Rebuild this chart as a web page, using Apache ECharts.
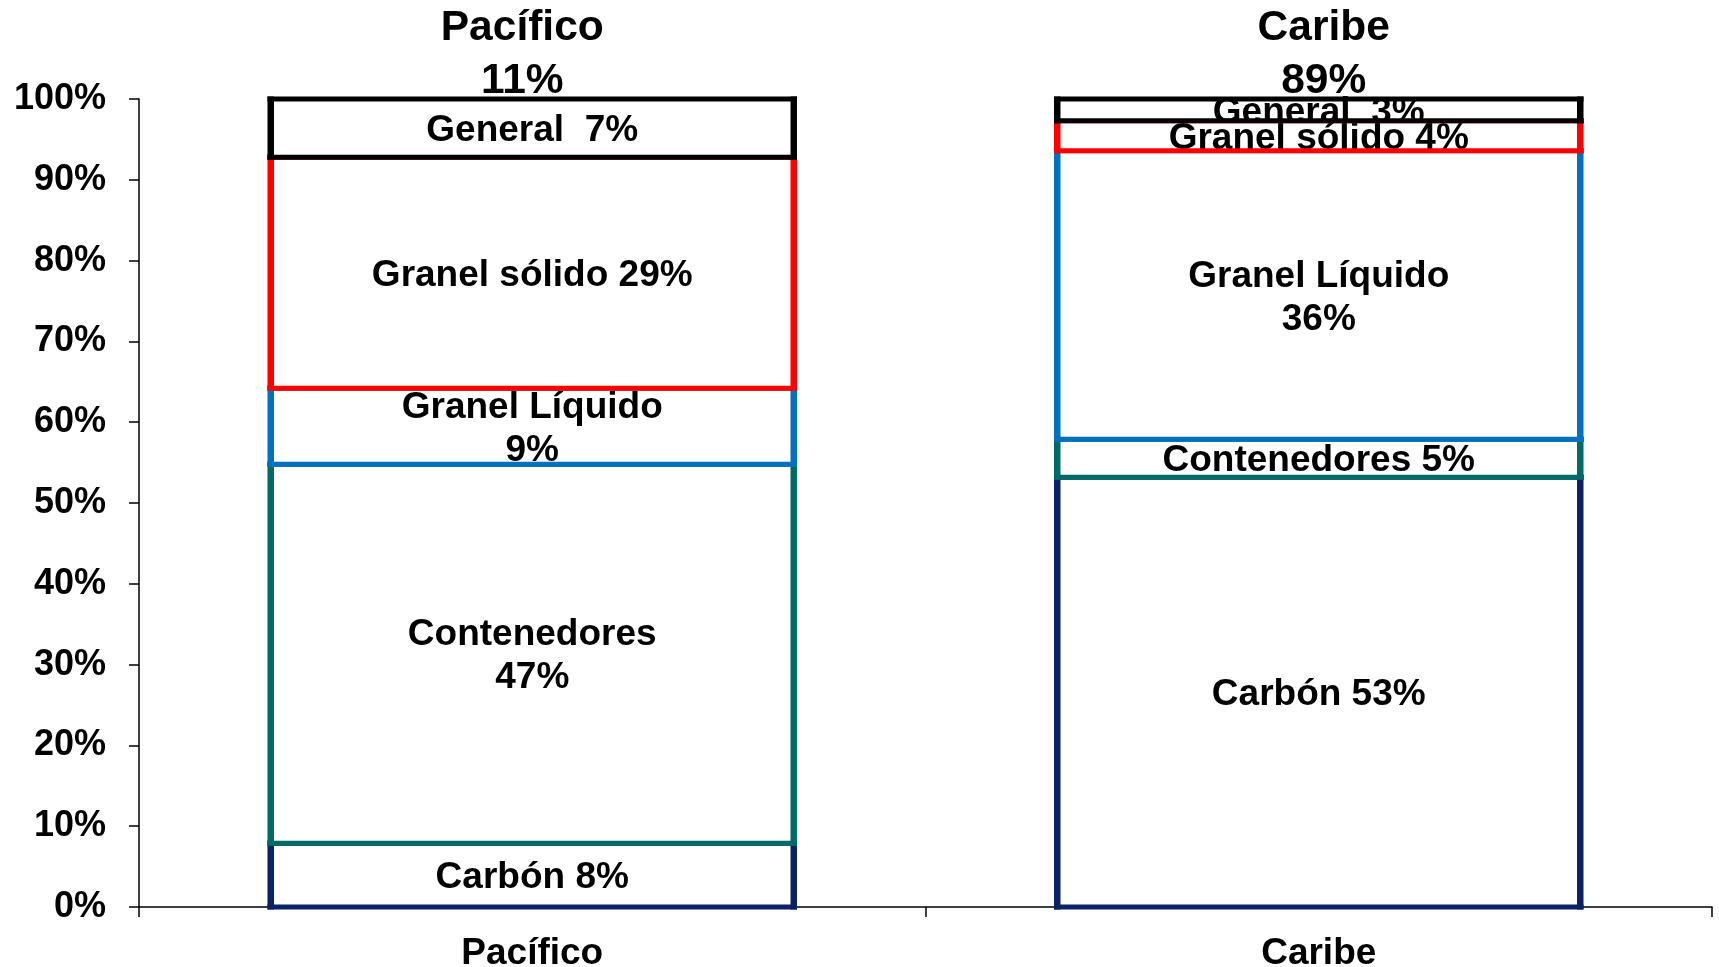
<!DOCTYPE html>
<html>
<head>
<meta charset="utf-8">
<script src="https://cdn.jsdelivr.net/npm/echarts@6/dist/echarts.min.js"></script>
<style>
html,body{margin:0;padding:0;background:#fff;}
#c{width:1719px;height:967px;}
</style>
</head>
<body>
<div id="c"></div>
<script>
const categories = ['Pacífico', 'Caribe'];
const regionShares = ['11%', '89%'];
const yTicks = [0, 10, 20, 30, 40, 50, 60, 70, 80, 90, 100];

const carbon = [7.9, 53.2];
const contenedores = [46.9, 4.7];
const granelLiquido = [9.4, 35.7];
const granelSolido = [28.6, 3.7];
const general = [7.2, 2.7];

const carbonLabels = ['Carbón 8%', 'Carbón 53%'];
const contenedoresLabels = ['Contenedores\n47%', 'Contenedores 5%'];
const granelLiquidoLabels = ['Granel Líquido\n9%', 'Granel Líquido\n36%'];
const granelSolidoLabels = ['Granel sólido 29%', 'Granel sólido 4%'];
const generalLabels = ['General  7%', 'General  3%'];

const FONT = '"Liberation Sans", Arial, sans-serif';
const BAR_RATIO = 0.665;
const HX = 3.25, HY = 2.5;      // half border thickness (vertical edges / horizontal edges)
const TITLE_DX = [-10, 5];

const layers = [
  { name: 'Carbón', values: carbon, labels: carbonLabels, color: '#0b2263' },
  { name: 'Contenedores', values: contenedores, labels: contenedoresLabels, color: '#006a66' },
  { name: 'Granel Líquido', values: granelLiquido, labels: granelLiquidoLabels, color: '#0070c0' },
  { name: 'Granel sólido', values: granelSolido, labels: granelSolidoLabels, color: '#ff0000' },
  { name: 'General', values: general, labels: generalLabels, color: '#000000' }
];

// stacked bases
const running = categories.map(() => 0);
const segSeries = layers.map(layer => {
  const data = layer.values.map((v, i) => {
    const d = [i, running[i], v];
    running[i] += v;
    return d;
  });
  return {
    name: layer.name,
    type: 'custom',
    data: data,
    encode: { x: 0, y: [1, 2] },
    clip: false,
    silent: true,
    renderItem: function (params, api) {
      const ci = api.value(0), b = api.value(1), v = api.value(2);
      const pb = api.coord([ci, b]);
      const pt = api.coord([ci, b + v]);
      const bw = api.size([1, 0])[0] * BAR_RATIO;
      const x0 = pb[0] - bw / 2;
      const yT = pt[1], yB = pb[1];
      const c = layer.color;
      return {
        type: 'group',
        children: [
          { type: 'rect', shape: { x: x0, y: yT, width: bw, height: yB - yT }, style: { fill: '#ffffff' } },
          {
            type: 'text', x: pb[0], y: (yT + yB) / 2 + 3,
            style: {
              text: layer.labels[params.dataIndex], fill: '#000',
              fontFamily: FONT, fontWeight: 'bold', fontSize: 37, lineHeight: 43,
              align: 'center', verticalAlign: 'middle'
            }
          },
          { type: 'rect', shape: { x: x0 - HX, y: yT - HY, width: bw + 2 * HX, height: 2 * HY }, style: { fill: c } },
          { type: 'rect', shape: { x: x0 - HX, y: yB - HY, width: bw + 2 * HX, height: 2 * HY }, style: { fill: c } },
          { type: 'rect', shape: { x: x0 - HX, y: yT - HY, width: 2 * HX, height: yB - yT + 2 * HY }, style: { fill: c } },
          { type: 'rect', shape: { x: x0 + bw - HX, y: yT - HY, width: 2 * HX, height: yB - yT + 2 * HY }, style: { fill: c } }
        ]
      };
    }
  };
});

const titleSeries = {
  name: 'Región',
  type: 'custom',
  data: categories.map((c, i) => [i, running[i]]),
  encode: { x: 0, y: 1 },
  clip: false,
  silent: true,
  renderItem: function (params, api) {
    const ci = api.value(0);
    const p = api.coord([ci, api.value(1)]);
    return {
      type: 'text', x: p[0] + TITLE_DX[params.dataIndex], y: p[1] + 8.5,
      style: {
        text: categories[params.dataIndex] + '\n' + regionShares[params.dataIndex],
        fill: '#000', fontFamily: FONT, fontWeight: 'bold', fontSize: 42.5, lineHeight: 53,
        align: 'center', verticalAlign: 'bottom'
      }
    };
  }
};

const chart = echarts.init(document.getElementById('c'), null, { renderer: 'canvas' });
chart.setOption({
  animation: false,
  backgroundColor: '#ffffff',
  grid: { left: 139, right: 7, top: 99, bottom: 60, containLabel: false, outerBoundsMode: 'none' },
  xAxis: {
    type: 'category',
    data: categories,
    axisLine: { show: true, lineStyle: { color: '#000', width: 1.5 } },
    axisTick: { show: true, alignWithLabel: false, length: 10, lineStyle: { color: '#000', width: 1.5 } },
    axisLabel: { color: '#000', fontFamily: FONT, fontWeight: 'bold', fontSize: 37, margin: 28 }
  },
  yAxis: {
    type: 'value',
    min: 0,
    max: 100,
    interval: 10,
    splitLine: { show: false },
    axisLine: { show: true, lineStyle: { color: '#000', width: 1.5 } },
    axisTick: { show: true, length: 10, inside: false, lineStyle: { color: '#000', width: 1.5 } },
    axisLabel: {
      color: '#000', fontFamily: FONT, fontWeight: 'bold', fontSize: 36, margin: 33,
      formatter: v => (yTicks.indexOf(v) >= 0 ? v + '%' : '')
    }
  },
  series: segSeries.concat([titleSeries])
});
</script>
</body>
</html>
